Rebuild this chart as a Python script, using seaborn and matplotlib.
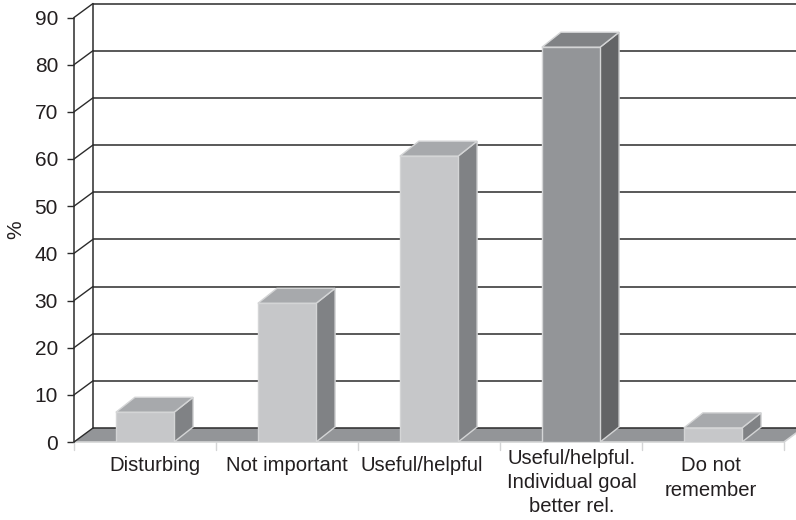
import matplotlib
matplotlib.use("Agg")
import matplotlib.pyplot as plt
from matplotlib.patches import Polygon
import pandas as pd
import seaborn as sns

categories = ["Disturbing", "Not important", "Useful/helpful",
              "Useful/helpful.\nIndividual goal\nbetter rel.", "Do not\nremember"]
percent = [6.3, 29.4, 60.6, 83.7, 3.0]
y_ticks = [0, 10, 20, 30, 40, 50, 60, 70, 80, 90]
front_colors = ["#c6c7c9", "#c6c7c9", "#c6c7c9", "#939598", "#c6c7c9"]
side_colors = ["#808285", "#808285", "#808285", "#636466", "#808285"]
top_colors = ["#a7a9ac", "#a7a9ac", "#a7a9ac", "#808285", "#a7a9ac"]
# Horizontal nudges of the category labels, in pixels
label_nudge = [10, 0, -7, 1, -2]

W, H = 796, 520
LEFT, RIGHT, BASE, TOP = 74, 784, 442, 17.5
INK = "#231f20"
EDGE = "#d4d5d6"

sns.set_theme(style="white")
plt.rcParams["font.family"] = ["Liberation Sans", "DejaVu Sans"]

fig = plt.figure(figsize=(W / 100, H / 100), dpi=100)
ax = fig.add_axes([LEFT / W, 1 - BASE / H, (RIGHT - LEFT) / W, (BASE - TOP) / H])
df = pd.DataFrame({"category": categories, "percent": percent})
sns.barplot(data=df, x="category", y="percent", hue="category", palette=front_colors,
            legend=False, width=0.41, ax=ax, saturation=1, edgecolor=EDGE,
            linewidth=1.0, zorder=5)
ax.set_xlim(-0.5, 4.5)
ax.set_ylim(0, 90)

# Oblique depth of the pseudo-3D box, in data units
unit_x = (RIGHT - LEFT) / 5
unit_y = (BASE - TOP) / 90
wall_dx, wall_dy = 19 / unit_x, 14 / unit_y
bar_dx, bar_dy = 19 / unit_x, 15 / unit_y
half = 0.205
x0, x1 = -0.5, 4.5
far = x1 + wall_dx

# Floor
ax.add_patch(Polygon([(x0, 0), (x1, 0), (far, wall_dy), (x0 + wall_dx, wall_dy)],
                     closed=True, fc="#939598", ec="none", zorder=1, clip_on=False))
ax.plot([x0, x1, far], [0, 0, wall_dy], color=EDGE, lw=1.2, zorder=2, clip_on=False)

# Back wall gridlines, with the short diagonals on the left wall
for v in y_ticks:
    ax.plot([x0 + wall_dx, far], [v + wall_dy, v + wall_dy], color="#2b2b2b",
            lw=1.1, zorder=2, clip_on=False, solid_capstyle="butt")
    ax.plot([x0, x0 + wall_dx], [v, v + wall_dy], color="#2b2b2b", lw=1.0,
            zorder=2, clip_on=False)
ax.plot([x0 + wall_dx, x0 + wall_dx], [wall_dy, 90 + wall_dy], color="#2b2b2b",
        lw=1.1, zorder=2, clip_on=False)

# Side and top faces of every bar
for i, v in enumerate(percent):
    l, r = i - half, i + half
    ax.add_patch(Polygon([(r, 0), (r + bar_dx, bar_dy), (r + bar_dx, v + bar_dy), (r, v)],
                         closed=True, fc=side_colors[i], ec=EDGE, lw=1.0, zorder=4,
                         clip_on=False))
    ax.add_patch(Polygon([(l, v), (r, v), (r + bar_dx, v + bar_dy), (l + bar_dx, v + bar_dy)],
                         closed=True, fc=top_colors[i], ec=EDGE, lw=1.0, zorder=4,
                         clip_on=False))

# Axes and ticks
for name in ("top", "right", "bottom"):
    ax.spines[name].set_visible(False)
ax.spines["left"].set_color("#2b2b2b")
ax.spines["left"].set_linewidth(1.1)
ax.set_yticks(y_ticks)
ax.tick_params(axis="y", left=True, length=5, width=1.0, color="#2b2b2b",
               labelsize=15, labelcolor=INK, pad=6.5)
ax.set_xticks([i + n / unit_x for i, n in enumerate(label_nudge)])
ax.set_xticklabels(categories, fontsize=14.6, color=INK, linespacing=1.36)
ax.tick_params(axis="x", bottom=False, pad=4.2)
# The three-line label starts a little higher than the others
ax.xaxis.get_major_ticks()[3].set_pad(-1.3)
for b in range(6):
    ax.plot([b - 0.5, b - 0.5], [0, -8 / unit_y], color=EDGE, lw=1.0, clip_on=False, zorder=1)
ax.set_xlabel("")
ax.set_ylabel("%", fontsize=15, color=INK, labelpad=6.5)
ax.patch.set_alpha(0)

fig.savefig("out.png", dpi=100, facecolor="white")
